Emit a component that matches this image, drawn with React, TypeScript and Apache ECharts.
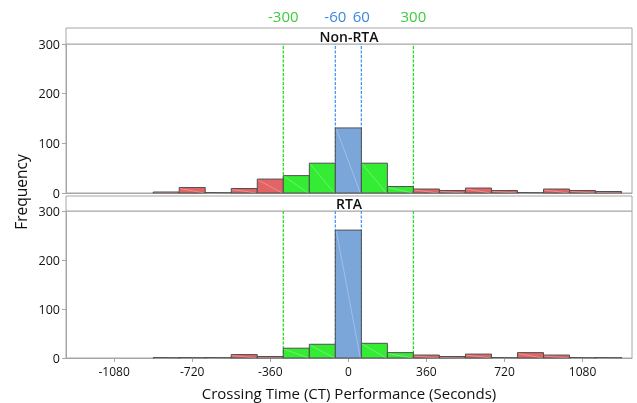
import React, { useEffect, useRef } from "react";
import * as echarts from "echarts";

const binStart = [-900, -780, -660, -540, -420, -300, -180, -60, 60, 180, 300, 420, 540, 660, 780, 900, 1020, 1140];
const BIN_WIDTH = 120;
const nonRtaCounts = [2, 11, 1, 9, 28, 35, 60, 131, 60, 13, 8, 5, 10, 5, 1, 8, 5, 3];
const rtaCounts = [1, 1, 1, 7, 3, 20, 28, 261, 30, 11, 6, 3, 8, 1, 11, 6, 1, 1];
const xTickLabels = [-1080, -720, -360, 0, 360, 720, 1080];
const refLines = [-300, -60, 60, 300];
const panelNames = ["Non-RTA", "RTA"];

const X_MIN = -1302;
const X_MAX = 1308;
const Y_MAX = 300;
const FONT = "'Open Sans', 'Noto Sans', sans-serif";

const RED = "#e26464";
const GREEN = "#35ec35";
const BLUE = "#7ba6da";
const GREEN_TXT = "#3ccc3c";
const BLUE_TXT = "#3a88e0";
const GREEN_LINE = "#1fe01f";
const BLUE_LINE = "#4a98f4";

function colorFor(center: number) {
  const a = Math.abs(center);
  if (a < 60) return BLUE;
  if (a < 300) return GREEN;
  return RED;
}

export default function App() {
  const ref = useRef<HTMLDivElement>(null);
  useEffect(() => {
    if (!ref.current) return;
    const chart = echarts.init(ref.current, null, { renderer: "svg" });
    const L = 66, R = 5, W = 637 - L - R;
    const grids = [
      { left: L, right: R, top: 44, height: 149, show: true, borderColor: "#a6a6a6", borderWidth: 1 },
      { left: L, right: R, top: 211, height: 147, show: true, borderColor: "#a6a6a6", borderWidth: 1 },
    ];
    const strips = [
      { y: 28, h: 16 },
      { y: 196, h: 15 },
    ];
    const renderItem = (params: any, api: any) => {
      const s = api.value(0), e = api.value(1), c = api.value(2);
      const p0 = api.coord([s, c]);
      const p1 = api.coord([e, 0]);
      const x = p0[0], y = p0[1], w = p1[0] - p0[0], h = p1[1] - p0[1];
      return {
        type: "group",
        children: [
          { type: "rect", shape: { x, y, width: w, height: h }, style: { fill: colorFor((s + e) / 2), stroke: "#505050", lineWidth: 1 } },
          { type: "line", shape: { x1: x + 1, y1: y + 1, x2: x + w - 1, y2: y + h }, style: { stroke: "rgba(255,255,255,0.4)", lineWidth: 0.7 } },
        ],
      };
    };
    const mkData = (counts: number[]) => binStart.map((s, i) => [s, s + BIN_WIDTH, counts[i]]);
    const xAxisBase = { type: "value", min: X_MIN, max: X_MAX, splitLine: { show: false } };
    const refSeries: any[] = [];
    [0, 1].forEach((g) => {
      refLines.forEach((v) => {
        const color = Math.abs(v) === 300 ? GREEN_LINE : BLUE_LINE;
        refSeries.push({
          type: "line", xAxisIndex: g, yAxisIndex: g, z: 1, silent: true,
          data: [[v, 0], [v, Y_MAX]],
          symbol: "none", showSymbol: false, color,
          lineStyle: { color, width: 1.3, type: [3, 1.5], opacity: 1 },
          itemStyle: { color },
          emphasis: { disabled: true },
        });
      });
    });
    const option: any = {
      animation: false,
      textStyle: { fontFamily: FONT },
      grid: grids,
      xAxis: [
        { ...xAxisBase, gridIndex: 0, axisLine: { show: true, onZero: false, lineStyle: { color: "#a6a6a6" } }, axisTick: { show: false }, axisLabel: { show: false } },
        {
          ...xAxisBase, gridIndex: 1,
          axisLine: { show: true, onZero: false, lineStyle: { color: "#a6a6a6" } },
          axisTick: { show: true, length: 4, lineStyle: { color: "#a6a6a6" }, customValues: xTickLabels },
          axisLabel: { show: true, customValues: xTickLabels, color: "#111", fontSize: 12, margin: 7, fontFamily: FONT, formatter: (v: number) => String(v) },
          name: "Crossing Time (CT) Performance (Seconds)",
          nameLocation: "middle",
          nameGap: 27,
          nameTextStyle: { fontSize: 15, color: "#111", fontFamily: FONT },
        },
        {
          ...xAxisBase, gridIndex: 0, position: "top",
          axisLine: { show: false, onZero: false }, axisTick: { show: false },
          splitLine: { show: false }, minorSplitLine: { show: false },
          axisLabel: {
            show: true, customValues: refLines, margin: 21, fontSize: 15, fontFamily: FONT,
            formatter: (v: number) => (Math.abs(v) === 300 ? `{g|${v}}` : `{b|${v}}`),
            rich: { g: { color: GREEN_TXT, fontSize: 15, fontFamily: FONT }, b: { color: BLUE_TXT, fontSize: 15, fontFamily: FONT } },
          },
        },
      ],
      yAxis: [0, 1].map((g) => ({
        type: "value", gridIndex: g, min: 0, max: Y_MAX, interval: 100,
        splitLine: { show: false },
        axisLine: { show: true, onZero: false, lineStyle: { color: "#a6a6a6" } },
        axisTick: { show: true, length: 4, lineStyle: { color: "#a6a6a6" } },
        axisLabel: { color: "#111", fontSize: 12.5, margin: 6, fontFamily: FONT },
      })),
      series: [
        ...refSeries,
        ...[nonRtaCounts, rtaCounts].map((counts, g) => ({
          type: "custom", xAxisIndex: g, yAxisIndex: g, z: 3,
          renderItem, data: mkData(counts), encode: { x: [0, 1], y: 2 }, silent: true,
        })),
      ],
      graphic: [
        ...strips.map((s, i) => ({
          type: "group",
          children: [
            { type: "rect", shape: { x: L, y: s.y, width: W, height: s.h }, style: { fill: "#fff", stroke: "#a6a6a6", lineWidth: 1 } },
            { type: "text", x: L + W / 2, y: s.y + s.h / 2, style: { text: panelNames[i], fontSize: 14, fontWeight: 600, fill: "#111", align: "center", verticalAlign: "middle", fontFamily: FONT } },
          ],
        })),
        {
          type: "text", x: 21, y: 192, rotation: Math.PI / 2,
          style: { text: "Frequency", fontSize: 15.5, fill: "#111", align: "center", verticalAlign: "middle", fontFamily: FONT },
        },
      ],
    };
    chart.setOption(option);
    return () => chart.dispose();
  }, []);
  return <div ref={ref} style={{ position: "fixed", left: 0, top: 0, width: 637, height: 403 }} />;
}
